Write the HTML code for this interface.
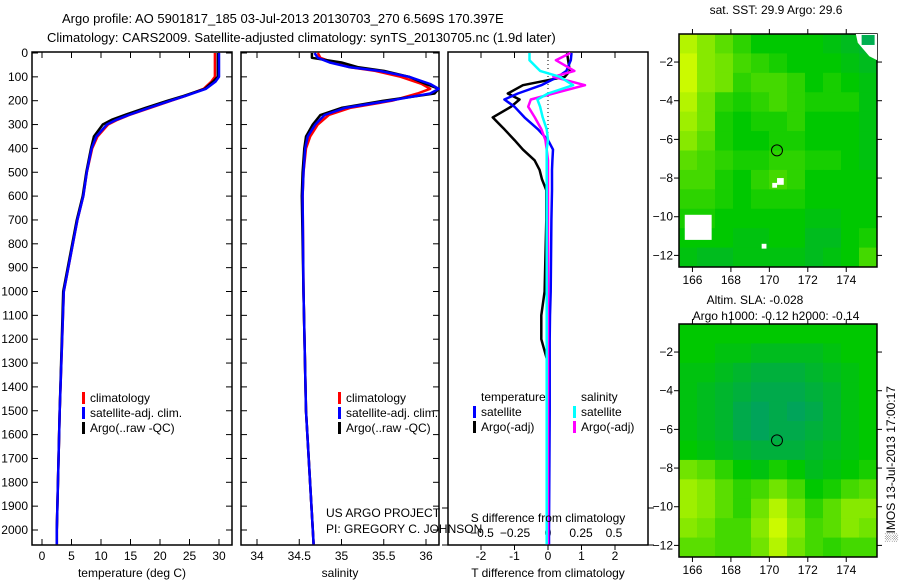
<!DOCTYPE html>
<html><head><meta charset="utf-8"><style>
body{margin:0;background:#fff}
svg{display:block;font-family:"Liberation Sans",sans-serif;font-size:12px}
</style></head><body>
<svg id="s" width="900" height="580" viewBox="0 0 900 580" xmlns="http://www.w3.org/2000/svg">
<text x="62" y="23" font-size="13">Argo profile: AO 5901817_185 03-Jul-2013 20130703_270 6.569S 170.397E</text>
<text x="47" y="42" font-size="13">Climatology: CARS2009. Satellite-adjusted climatology: synTS_20130705.nc (1.9d later)</text>
</svg>
<script>
// ---- data ----
const depthTicks=[0,100,200,300,400,500,600,700,800,900,1000,1100,1200,1300,1400,1500,1600,1700,1800,1900,2000];
const tempTicks=[0,5,10,15,20,25,30];
const salTicks=[34,34.5,35,35.5,36];
const dTTicks=[-2,-1,0,1,2];
const dSTicks=[-0.5,-0.25,0,0.25,0.5];
const dSTickLabels=["-0.5","-0.25","0","0.25","0.5"];
const latTicks=[-2,-4,-6,-8,-10,-12];
const lonTicks=[166,168,170,172,174];

const tDepth=[0,100,120,150,180,200,230,260,280,300,350,400,500,600,700,1000,1500,2000,2060];
const tempArgo=[29.8,29.8,29.0,27.6,24.0,21.3,17.5,14.0,11.8,10.3,8.8,8.3,7.5,6.9,5.9,3.6,3.0,2.5,2.5];
const tempClim=[29.3,29.3,28.7,27.4,24.3,21.9,18.3,14.8,12.8,11.2,9.4,8.5,7.6,7.0,6.0,3.7,3.0,2.5,2.5];
const tempSat=[30.0,30.0,29.4,27.8,24.3,21.8,18.1,14.7,12.6,11.0,9.2,8.4,7.6,7.0,6.0,3.7,3.0,2.5,2.5];

const sDepth=[0,20,40,60,75,100,130,150,170,200,230,260,300,350,400,500,600,1000,1500,2000,2060];
const salArgo=[34.65,34.65,35.0,35.2,35.5,35.8,36.0,36.15,36.1,35.5,35.0,34.75,34.66,34.58,34.56,34.54,34.53,34.55,34.58,34.66,34.67];
const salClim=[34.72,34.75,34.9,35.1,35.4,35.7,35.95,36.05,35.9,35.6,35.1,34.85,34.72,34.63,34.58,34.55,34.54,34.55,34.58,34.66,34.67];
const salSat=[34.68,34.72,34.86,35.1,35.45,35.8,36.05,36.15,36.05,35.57,35.04,34.8,34.69,34.6,34.57,34.55,34.54,34.55,34.58,34.66,34.67];

const dDepth=[0,30,75,100,135,170,195,225,270,320,365,405,450,490,530,575,700,1000,1100,1200,1300,1500,2000,2060];
const dTArgo=[0.57,0.6,0.65,0.5,-0.75,-1.2,-0.85,-1.1,-1.65,-1.3,-1.0,-0.75,-0.4,-0.25,-0.18,-0.05,-0.05,-0.1,-0.2,-0.2,0,0,0,0];
const dTSat=[0.7,0.68,0.55,0.3,-0.2,-0.9,-1.3,-1.0,-0.7,-0.3,0.0,0.15,0.13,0.12,0.12,0.12,0.1,0.08,0.06,0.05,0.05,0.05,0.03,0.03];
const dSArgo=[0.17,0.06,0.2,0.04,0.28,0.04,-0.13,-0.15,-0.1,-0.05,-0.02,-0.01,0,0,0,0,0,0,0,0,0,0,0,0];
const dSSat=[-0.14,-0.14,-0.06,0.09,0.19,0.0,-0.08,-0.06,-0.04,-0.01,0,-0.01,-0.01,-0.01,-0.01,-0.01,-0.01,-0.01,-0.01,-0.01,-0.01,-0.01,-0.01,-0.01];

const sstGrid=[
[0.8,0.6,0.4,0.2,0,0,0,0,-0.1,-0.2,-0.3],
[0.9,0.6,0.5,0.3,0.2,0.1,0,0,0,-0.1,-0.2],
[0.9,0.6,0.5,0.2,0.3,0.3,0.2,0,0.1,0,-0.1],
[0.8,0.5,0.2,0.1,0.2,0.3,0.2,0.1,0.1,0.1,-0.1],
[0.7,0.5,0.1,0,0.1,0.1,0.2,0,0,0,-0.1],
[0.6,0.4,0.1,0,0,0.1,0.1,0,0,0,-0.1],
[0.4,0.3,0.2,0.1,0.1,0.2,0.2,0.1,0.1,0,-0.1],
[0.3,0.3,0.1,0,0.2,0.3,0.2,0,0,0,0],
[0.2,0.2,0.1,0,0.1,0.1,0.1,0,0,0,0],
[0.1,0.1,0,0,0,0,0,-0.1,-0.1,0,0],
[0,0,0,-0.1,-0.1,0,0,-0.2,-0.2,0,0.1],
[-0.1,-0.2,-0.2,-0.1,-0.1,-0.1,-0.1,-0.2,-0.1,0,0.3]];
const slaGrid=[
[0,0,0,0,0,0,0,0,0,0,0],
[0,0,-0.1,-0.1,-0.2,-0.2,-0.2,-0.2,-0.1,0,0],
[-0.1,-0.1,-0.2,-0.3,-0.4,-0.4,-0.4,-0.3,-0.2,-0.1,0],
[-0.1,-0.2,-0.3,-0.4,-0.5,-0.5,-0.5,-0.4,-0.3,-0.1,0],
[-0.1,-0.2,-0.3,-0.5,-0.6,-0.5,-0.6,-0.5,-0.3,-0.1,0],
[-0.1,-0.2,-0.3,-0.5,-0.6,-0.5,-0.5,-0.4,-0.3,-0.1,0],
[0,-0.1,-0.2,-0.3,-0.4,-0.4,-0.4,-0.3,-0.2,-0.1,0],
[0.5,0.4,0.2,0,-0.1,0.1,0,-0.2,-0.1,0,0.1],
[0.7,0.6,0.4,0.2,0.3,0.5,0.3,0,0.1,0.3,0.4],
[0.7,0.6,0.4,0.2,0.5,0.8,0.5,0.2,0.4,0.6,0.6],
[0.6,0.5,0.3,0.3,0.6,0.9,0.6,0.3,0.4,0.6,0.5],
[0.4,0.4,0.3,0.3,0.5,0.8,0.5,0.3,0.2,0.3,0.3]];
const argoLon=170.397, argoLat=-6.569;

// ---- helpers ----
const svg=document.getElementById('s');
const NS='http://www.w3.org/2000/svg';
function mk(tag,at,parent){const e=document.createElementNS(NS,tag);for(const k in at)e.setAttribute(k,at[k]);(parent||svg).appendChild(e);return e;}
function txt(s,x,y,anchor,parent){const t=mk('text',{x:x,y:y,'text-anchor':anchor||'start'},parent);t.textContent=s;return t;}
const yD=d=>53+d*0.2385;
const yTop=52,yBot=545;

function frame(x0,x1,name){
  const r=mk('rect',{x:x0,y:yTop,width:x1-x0,height:yBot-yTop,fill:'none',stroke:'#000','stroke-width':1.5});
  
  
  depthTicks.forEach(d=>{
    const y=yD(d);
    const a=mk('line',{x1:x0,x2:x0+6,y1:y,y2:y,stroke:'#000'});
    
    
    const b=mk('line',{x1:x1-6,x2:x1,y1:y,y2:y,stroke:'#000'});
    
    
  });
}
function xticks(vals,sx,labels,ly,name,top){
  vals.forEach((v,i)=>{
    const x=sx(v);
    const t=mk('line',{x1:x,x2:x,y1:yBot-6,y2:yBot,stroke:'#000'});
    
    
    if(top!==false){
      const t2=mk('line',{x1:x,x2:x,y1:yTop,y2:yTop+6,stroke:'#000'});
      
      
    }
    const l=txt(labels?labels[i]:String(v),x,ly,'middle');
    
    
  });
}
function line(xs,ds,sx,color,name,w){
  const pts=xs.map((v,i)=>sx(v).toFixed(1)+','+yD(ds[i]).toFixed(1)).join(' ');
  const p=mk('polyline',{points:pts,fill:'none',stroke:color,'stroke-width':w||2.5,'stroke-linejoin':'round'});
  
  
}
function legend(x,y,items){
  items.forEach((it,i)=>{
    const yy=y+i*15;
    const b=mk('rect',{x:x,y:yy-10,width:3,height:12,fill:it[1]});
    
    
    const t=txt(it[0],x+8,yy);
    
    
  });
}

// ---- panel 1: temperature ----
const sxT=t=>42+t*5.9;
frame(32,232,'temperature-panel');
depthTicks.forEach(d=>{const l=txt(String(d),28,yD(d)+4,'end');});
xticks(tempTicks,sxT,null,560,'temperature');
line(tempClim,tDepth,sxT,'#f00','temp-climatology-line');
line(tempArgo,tDepth,sxT,'#000','temp-argo-line');
line(tempSat,tDepth,sxT,'#00f','temp-satellite-line');
legend(82,402,[['climatology','#f00'],['satellite-adj. clim.','#00f'],['Argo(..raw -QC)','#000']]);
{const t=txt('temperature (deg C)',132,577,'middle');}

// ---- panel 2: salinity ----
const sxS=s=>257+(s-34)*84.5;
frame(241,439,'salinity-panel');
xticks(salTicks,sxS,null,560,'salinity');
line(salClim,sDepth,sxS,'#f00','sal-climatology-line');
line(salArgo,sDepth,sxS,'#000','sal-argo-line');
line(salSat,sDepth,sxS,'#00f','sal-satellite-line');
legend(338,402,[['climatology','#f00'],['satellite-adj. clim.','#00f'],['Argo(..raw -QC)','#000']]);
{const t=txt('salinity',340,577,'middle');}
{const t=txt('US ARGO PROJECT',326,517);
 const u=txt('PI: GREGORY C. JOHNSON',326,533);}

// ---- panel 3: differences ----
const sxdT=v=>548+v*33.5;
const sxdS=v=>548+v*132;
{const r=mk('rect',{x:448,y:yTop,width:200,height:yBot-yTop,fill:'none',stroke:'#000','stroke-width':1.5});}
[508,545].forEach(y=>{[[442,448],[648,654]].forEach(p=>{const l=mk('line',{x1:p[0],x2:p[1],y1:y,y2:y,stroke:'#000'});});});
dTTicks.forEach(v=>{const x=sxdT(v);const l=mk('line',{x1:x,x2:x,y1:yBot,y2:yBot+5,stroke:'#000'});
 const t2=mk('line',{x1:x,x2:x,y1:yTop,y2:yTop+6,stroke:'#000'});
 const t=txt(String(v),x,560,'middle');});
dSTicks.forEach((v,i)=>{const t=txt(dSTickLabels[i].replace('-','\u2212'),sxdS(v),537,'middle');});
{const z=mk('line',{x1:sxdT(0),x2:sxdT(0),y1:yTop,y2:yD(350),stroke:'#000','stroke-dasharray':'1,3'});}
line(dTArgo,dDepth,sxdT,'#000','dT-argo-line');
line(dTSat,dDepth,sxdT,'#00f','dT-satellite-line');
line(dSArgo,dDepth,sxdS,'#f0f','dS-argo-line');
line(dSSat,dDepth,sxdS,'#0ff','dS-satellite-line');
{const t=txt('temperature',481,401);
 const u=txt('salinity',581,401);}
legend(473,416,[['satellite','#00f'],['Argo(-adj)','#000']]);
legend(573,416,[['satellite','#0ff'],['Argo(-adj)','#f0f']]);
{const t=txt('S difference from climatology',548,522,'middle');
 const u=txt('T difference from climatology',548,577,'middle');}

// ---- maps ----
function col(v){
  if(v>=0) return 'rgb('+Math.round(v*225)+','+Math.round(200+v*55)+',0)';
  return 'rgb(0,'+Math.round(200+v*60)+','+Math.round(-v*150)+')';
}
function map(top,grid,name){
  const x0=679,x1=877,y1=top+233;
  const lonMin=165.3,lonMax=175.6,latMax=-0.55,latMin=-12.6;
  const sx=lo=>x0+(lo-lonMin)/(lonMax-lonMin)*(x1-x0);
  const sy=la=>top+(latMax-la)/(latMax-latMin)*(y1-top);
  const g=mk('g',{});
  
  
  const nr=grid.length,nc=grid[0].length;
  grid.forEach((row,r)=>row.forEach((v,c)=>{
    const loA=lonMin+c*(lonMax-lonMin)/nc, loB=lonMin+(c+1)*(lonMax-lonMin)/nc;
    const laA=latMax-r*(latMax-latMin)/nr, laB=latMax-(r+1)*(latMax-latMin)/nr;
    const e=mk('rect',{x:sx(loA),y:sy(laA),width:sx(loB)-sx(loA)+0.5,height:sy(laB)-sy(laA)+0.5,fill:col(v)},g);
    
    
  }));
  const f=mk('rect',{x:x0,y:top,width:x1-x0,height:y1-top,fill:'none',stroke:'#000','stroke-width':1.5});
  
  
  latTicks.forEach(la=>{const y=sy(la);
    const a=mk('line',{x1:x0-5,x2:x0,y1:y,y2:y,stroke:'#000'});
    const b=mk('line',{x1:x1,x2:x1+5,y1:y,y2:y,stroke:'#000'});
    const t=txt(String(la).replace('-','\u2212'),673,y+4,'end');});
  lonTicks.forEach(lo=>{const x=sx(lo);
    const a=mk('line',{x1:x,x2:x,y1:top-5,y2:top,stroke:'#000'});
    const b=mk('line',{x1:x,x2:x,y1:y1,y2:y1+5,stroke:'#000'});
    const t=txt(String(lo),x,y1+17,'middle');});
  const c=mk('circle',{cx:sx(argoLon),cy:sy(argoLat),r:5.5,fill:'none',stroke:'#000'});
  
  
  return {sx,sy};
}
const m1=map(34,sstGrid,'sst-map');
[[165.6,-9.9,1.4,1.3],[170.4,-8.0,0.35,0.35],[170.15,-8.25,0.25,0.25],[169.6,-11.4,0.25,0.25]].forEach(p=>{
  const r=mk('rect',{x:m1.sx(p[0]),y:m1.sy(p[1]),width:p[2]*19.2,height:p[3]*19.3,fill:'#fff'});
  
  
});
{const p=mk('polygon',{points:m1.sx(174.5)+','+m1.sy(-0.55)+' '+m1.sx(175.6)+','+m1.sy(-0.55)+' '+m1.sx(175.6)+','+m1.sy(-1.9)+' '+m1.sx(175.2)+','+m1.sy(-1.7)+' '+m1.sx(174.6)+','+m1.sy(-1.0),fill:'#fff'});
 
 
 const q=mk('rect',{x:m1.sx(174.8),y:m1.sy(-0.6),width:13,height:10,fill:'rgb(0,175,80)'});
 
 }
map(324,slaGrid,'sla-map');
{const t=txt('sat. SST: 29.9 Argo: 29.6',776,14,'middle');
 const u=txt('Altim. SLA: -0.028',755,304,'middle');
 const v=txt('Argo h1000: -0.12 h2000: -0.14',776,320,'middle');
 const w=txt('\u2591IMOS 13-Jul-2013 17:00:17',0,0,'middle');w.setAttribute('transform','translate(895,464) rotate(-90)');}
</script>
</body></html>
